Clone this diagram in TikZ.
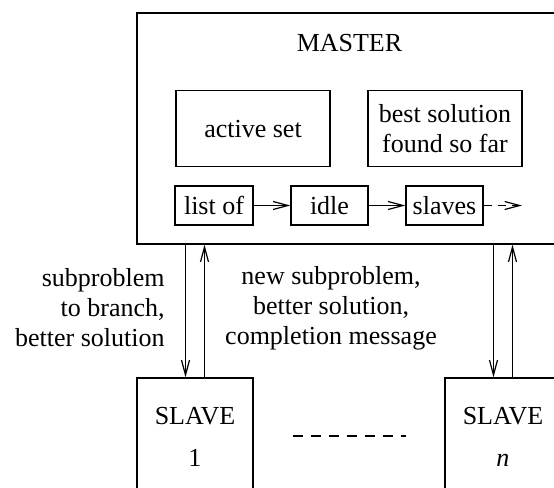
\documentclass[tikz,border=0pt]{standalone}
\usepackage{fontspec}
\setmainfont{Liberation Serif}
\usepackage{tikz}
\usetikzlibrary{arrows.meta, calc}

\tikzset{
	box/.style={draw, line width=0.6pt, inner sep=0pt, align=center},
	flow/.style={line width=0.6pt, -{Straight Barb[length=7.5pt, width=4pt]}},
	lbl/.style={inner sep=0pt, align=center}
}

\begin{document}
\begin{tikzpicture}[x=0.5pt, y=-0.5pt, font=\fontsize{13}{15}\selectfont]
	\useasboundingbox (0,0) rectangle (554,488);
	\clip (0,0) rectangle (554,488);
	% master with its parts
	\node[box, minimum width=212.5pt, minimum height=115.5pt] (master) at (349.5,128.5) {};
	\node[lbl] (mtitle) at (349.5,43) {MASTER};
	\node[box, minimum width=77pt, minimum height=38pt] (active) at (253,128.7) {active set};
	\node[box, minimum width=77pt, minimum height=38pt] (best) at (445,128.7) {best solution\\found so far};
	\node[box, minimum width=39pt, minimum height=19.5pt] (listof) at (214,205.5) {list of};
	\node[box, minimum width=38.5pt, minimum height=19.5pt] (idle) at (329.5,205.5) {idle};
	\node[box, minimum width=38.5pt, minimum height=19.5pt] (slaves) at (444.5,205.5) {slaves};
	\coordinate (qend) at (522,205.5);
	\draw[flow] (listof) -- (idle);
	\draw[flow] (idle) -- (slaves);
	\draw[flow, dash pattern=on 4pt off 3pt] (slaves) -- (qend);
	% slaves
	\node[box, minimum width=58pt, minimum height=59pt] (slave1) at (195,437) {SLAVE\\[6pt]1};
	\node[box, minimum width=58pt, minimum height=59pt] (slaven) at (503,437) {SLAVE\\[6pt]\textit{n}};
	\draw[line width=0.6pt, dash pattern=on 5pt off 4pt] ($(slave1.east)+(39,-1)$) coordinate (dl) -- ($(slaven.west)+(-38,-1)$) coordinate (dr);
	% messages
	\draw[flow] ([xshift=-4.75pt]slave1.north |- master.south) -- ([xshift=-4.75pt]slave1.north);
	\draw[flow] ([xshift=4.75pt]slave1.north) -- ([xshift=4.75pt]slave1.north |- master.south);
	\draw[flow] ([xshift=-4.75pt]slaven.north |- master.south) -- ([xshift=-4.75pt]slaven.north);
	\draw[flow] ([xshift=4.75pt]slaven.north) -- ([xshift=4.75pt]slaven.north |- master.south);
	\node[lbl, anchor=east, align=right] (tolbl) at (165,308) {subproblem\\to branch,\\better solution};
	\node[lbl] (fromlbl) at (331,308) {new subproblem,\\better solution,\\completion message};
\end{tikzpicture}
\end{document}
